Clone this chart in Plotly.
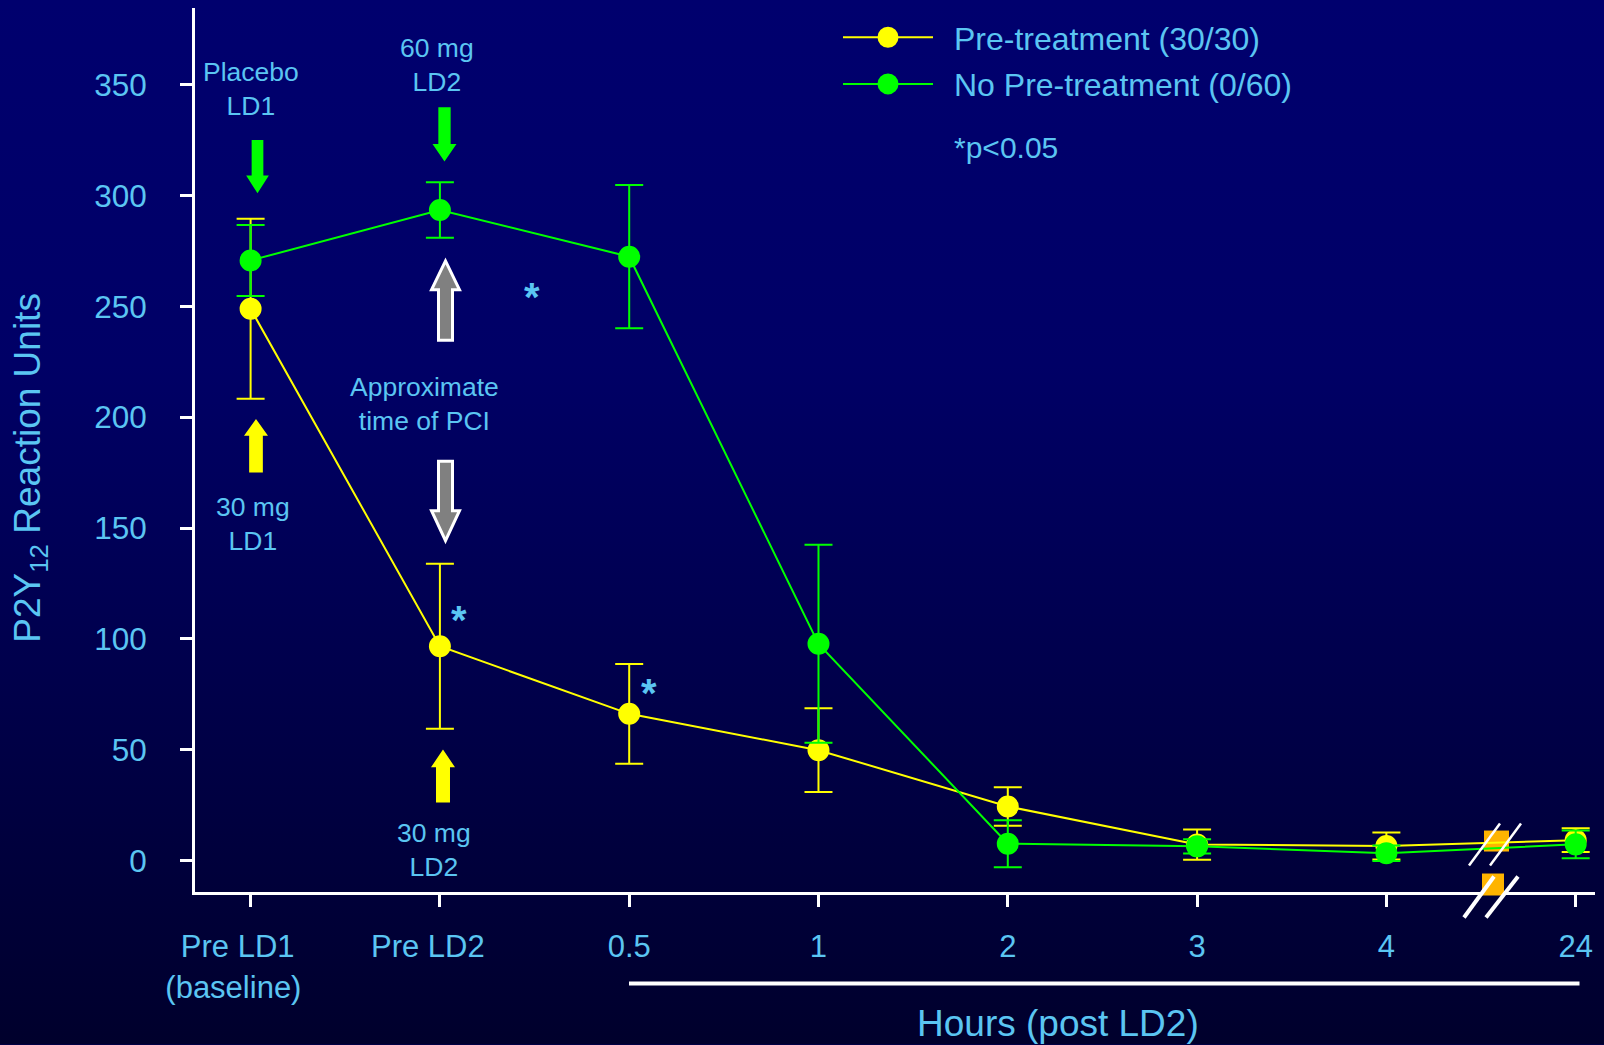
import base64
import plotly.graph_objects as go

# ---------------- data ----------------
NB = "\u00a0"
categories = ["Pre LD1" + NB * 3 + "<br>(baseline)" + NB * 4, "Pre LD2" + "\u2002" + NB,
              "0.5", "1", "2", "3", "4", "24"]
cat_pos = [0, 1, 2, 3, 4, 5, 6, 7]

pre_name = "\u2002Pre-treatment (30/30)"
pre_mean = [249.0, 96.7, 66.2, 49.8, 24.4, 7.2, 6.6, 9.2]
pre_err = [40.6, 37.2, 22.5, 18.9, 8.7, 6.8, 6.1, 5.4]

nopre_name = "\u2002No Pre-treatment (0/60)"
nopre_mean = [270.8, 293.6, 272.5, 97.8, 7.6, 6.4, 3.3, 7.3]
nopre_err = [16.0, 12.5, 32.3, 44.7, 10.6, 3.2, 3.5, 6.3]

y_ticks = [0, 50, 100, 150, 200, 250, 300, 350]

# ---------------- style ----------------
W, H = 1604, 1045
ML, MR, MT, MB = 195, 9, 8, 152.5
PW, PH = W - ML - MR, H - MT - MB
TXT = "#5BC5F2"
YEL = "#FFFF00"
GRN = "#00FF00"
ORANGE = "#FFB400"
FONT = "Liberation Sans, Arial, sans-serif"


def px(xp):
    return (xp - ML) / PW


def py(yp):
    return (H - MB - yp) / PH


fig = go.Figure()

fig.add_trace(go.Scatter(
    x=cat_pos, y=pre_mean, name=pre_name, mode="lines+markers",
    line=dict(color=YEL, width=2), marker=dict(color=YEL, size=17, line=dict(color=YEL, width=5)),
    error_y=dict(type="data", array=pre_err, visible=True, color=YEL, thickness=2, width=14),
    legendgroup="a",
))
fig.add_trace(go.Scatter(
    x=cat_pos, y=nopre_mean, name=nopre_name, mode="lines+markers",
    line=dict(color=GRN, width=2), marker=dict(color=GRN, size=17, line=dict(color=GRN, width=5)),
    error_y=dict(type="data", array=nopre_err, visible=True, color=GRN, thickness=2, width=14),
    legendgroup="b",
))

# background gradient as an SVG image
svg = ("<svg xmlns='http://www.w3.org/2000/svg' width='1604' height='1045' preserveAspectRatio='none'>"
       "<defs><linearGradient id='g' x1='0' y1='0' x2='0' y2='1'>"
       "<stop offset='0' stop-color='#00006e'/><stop offset='0.35' stop-color='#000066'/>"
       "<stop offset='1' stop-color='#00002c'/></linearGradient></defs>"
       "<rect width='1604' height='1045' fill='url(#g)'/></svg>")
svg_uri = "data:image/svg+xml;base64," + base64.b64encode(svg.encode()).decode()

shapes = []


def block_arrow(cx, y_tail, y_tip, sw, hw, hl, fill, line_color=None, lw=0):
    s = 1 if y_tip > y_tail else -1
    yb = y_tip - s * hl
    pts = [(cx - sw / 2, y_tail), (cx + sw / 2, y_tail), (cx + sw / 2, yb), (cx + hw / 2, yb),
           (cx, y_tip), (cx - hw / 2, yb), (cx - sw / 2, yb)]
    path = "M " + " L ".join(f"{px(a):.5f},{py(b):.5f}" for a, b in pts) + " Z"
    shapes.append(dict(type="path", path=path, xref="paper", yref="paper", fillcolor=fill,
                       line=dict(color=line_color or fill, width=lw), layer="above"))


block_arrow(257.5, 140, 193.3, 11.7, 22.7, 17.6, GRN)
block_arrow(444.5, 107.3, 161.7, 12.3, 24, 17.7, GRN)
block_arrow(256, 472.7, 419.3, 13.7, 24, 16.7, YEL)
block_arrow(443, 803, 750, 14, 24, 17.7, YEL)
block_arrow(445.5, 340.5, 261, 14, 28, 29, "#808080", "white", 3)
block_arrow(445.5, 461.5, 541, 14, 28, 30, "#808080", "white", 3)

# axis break decorations
shapes.append(dict(type="rect", xref="paper", yref="paper", x0=px(1484), x1=px(1509), y0=py(852), y1=py(831),
                   fillcolor=ORANGE, line=dict(width=0), layer="below"))
shapes.append(dict(type="rect", xref="paper", yref="paper", x0=px(1482), x1=px(1504), y0=py(896), y1=py(874),
                   fillcolor=ORANGE, line=dict(width=0), layer="above"))
for (a, b, c, d, w) in [(1469, 866, 1500, 824, 2.5), (1490, 866, 1521, 824, 2.5),
                        (1464, 918, 1494, 877, 4), (1486, 918, 1518, 877, 4)]:
    shapes.append(dict(type="line", xref="paper", yref="paper", x0=px(a), y0=py(b), x1=px(c), y1=py(d),
                       line=dict(color="white", width=w), layer="above"))

# "Hours" bracket line
shapes.append(dict(type="line", xref="paper", yref="paper", x0=px(629), x1=px(1579.5), y0=py(984), y1=py(984),
                   line=dict(color="white", width=4)))

ann_font = dict(family=FONT, size=26.5, color=TXT)
annotations = [
    dict(x=0.0, y=348.0, text="Placebo<br>LD1"),
    dict(x=0.985, y=359.0, text="60 mg<br>LD2"),
    dict(x=0.013, y=152.0, text="30 mg<br>LD1"),
    dict(x=0.921, y=205.9, text="Approximate<br>time of PCI"),
    dict(x=0.969, y=4.7, text="30 mg<br>LD2"),
]
annotations = [dict(a, xref="x", yref="y", showarrow=False, font=ann_font, xanchor="center", yanchor="middle")
               for a in annotations]
star_font = dict(family=FONT, size=40, color=TXT)
for sx, sy in [(1.487, 254.4), (1.101, 108.7), (2.105, 75.8)]:
    annotations.append(dict(x=sx, y=sy, xref="x", yref="y", text="<b>*</b>", showarrow=False, font=star_font,
                            xanchor="center", yanchor="middle"))
annotations.append(dict(x=3.705, y=321.6, xref="x", yref="y", text="*p<0.05", showarrow=False,
                        font=dict(family=FONT, size=30, color=TXT), xanchor="left", yanchor="middle"))
annotations.append(dict(x=px(30), y=py(468), xref="paper", yref="paper", text="P2Y<sub>12</sub> Reaction Units",
                        textangle=-90, showarrow=False, font=dict(family=FONT, size=37, color=TXT),
                        xanchor="center", yanchor="middle"))
annotations.append(dict(x=px(1058), y=py(1024), xref="paper", yref="paper", text="Hours (post LD2)",
                        showarrow=False, font=dict(family=FONT, size=37, color=TXT),
                        xanchor="center", yanchor="middle"))

fig.update_layout(
    width=W, height=H,
    margin=dict(l=ML, r=MR, t=MT, b=MB, pad=0),
    paper_bgcolor="#00004a",
    plot_bgcolor="rgba(0,0,0,0)",
    font=dict(family=FONT, color=TXT),
    images=[dict(source=svg_uri, xref="paper", yref="paper", x=px(0), y=py(0), sizex=W / PW, sizey=H / PH,
                 sizing="stretch", xanchor="left", yanchor="top", layer="below")],
    shapes=shapes,
    annotations=annotations,
    showlegend=True,
    legend=dict(x=px(838), y=py(10), xanchor="left", yanchor="top", bgcolor="rgba(0,0,0,0)",
                font=dict(family=FONT, size=32, color=TXT), itemwidth=90, traceorder="grouped",
                tracegroupgap=2),
    xaxis=dict(range=[-0.2937, 7.102], tickmode="array", tickvals=cat_pos, ticktext=categories,
               showline=True, linecolor="white", linewidth=3, ticks="outside", ticklen=12, tickwidth=3,
               tickcolor="white", showgrid=False, zeroline=False, ticklabelstandoff=13,
               tickfont=dict(family=FONT, size=31, color=TXT), fixedrange=True),
    yaxis=dict(range=[-14.2, 384.73], tickmode="array", tickvals=y_ticks,
               showline=True, linecolor="white", linewidth=3, ticks="outside", ticklen=12, tickwidth=3,
               tickcolor="white", showgrid=False, zeroline=False, ticklabelstandoff=27,
               tickfont=dict(family=FONT, size=31.5, color=TXT), fixedrange=True),
)

fig.write_html("out.html", config={"displayModeBar": False},
               post_script="document.body.style.margin='0';document.body.style.overflow='hidden';")
